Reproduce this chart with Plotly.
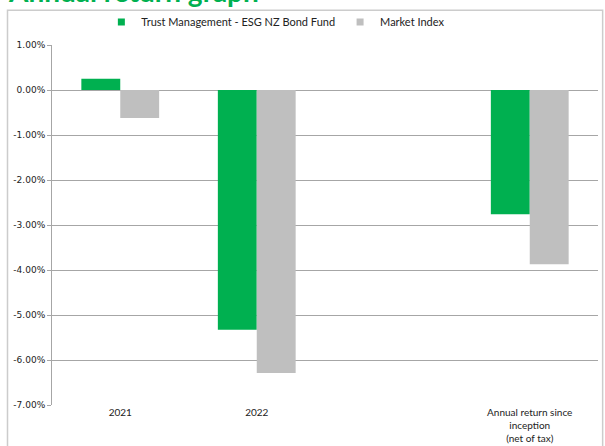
import plotly.graph_objects as go

categories = ["2021", "2022", " ", "Annual return since<br>inception<br>(net of tax)"]
fund_name = "Trust Management - ESG NZ Bond Fund"
index_name = "Market Index"
fund_values = [0.25, -5.33, None, -2.76]
index_values = [-0.62, -6.29, None, -3.87]
y_ticks = [1, 0, -1, -2, -3, -4, -5, -6, -7]
y_ticktext = ["1.00%", "0.00%", "-1.00%", "-2.00%", "-3.00%", "-4.00%", "-5.00%", "-6.00%", "-7.00%"]

GREEN = "#00b050"
GREY = "#bfbfbf"
GRID = "#a6a6a6"

fig = go.Figure()
fig.add_trace(go.Bar(x=categories, y=fund_values, name=fund_name, showlegend=False,
                     marker=dict(color=GREEN, line=dict(width=0))))
fig.add_trace(go.Bar(x=categories, y=index_values, name=index_name, showlegend=False,
                     marker=dict(color=GREY, line=dict(width=0))))
# legend entries with small square symbols
fig.add_trace(go.Scatter(x=[None], y=[None], mode="markers", name=fund_name,
                         marker=dict(symbol="square", size=7, color=GREEN)))
fig.add_trace(go.Scatter(x=[None], y=[None], mode="markers", name=index_name,
                         marker=dict(symbol="square", size=7, color=GREY)))

fig.update_layout(
    width=605, height=446,
    margin=dict(l=52, r=7, t=45, b=41, autoexpand=False),
    paper_bgcolor="white", plot_bgcolor="white",
    barmode="group", bargap=0.43, bargroupgap=0,
    showlegend=True,
    legend=dict(orientation="h", x=0.41, xanchor="center", y=1.064, yanchor="middle",
                font=dict(family="Lato, sans-serif", size=11, color="#222"),
                itemwidth=30, bgcolor="rgba(0,0,0,0)", tracegroupgap=0),
    font=dict(family="DejaVu Sans, sans-serif", size=9, color="#222"),
    xaxis=dict(type="category", showgrid=False, showline=False, ticks="",
               tickfont=dict(family="Lato, sans-serif", size=10, color="#222")),
    yaxis=dict(range=[-7, 1], tickvals=y_ticks, ticktext=y_ticktext,
               showgrid=True, gridcolor=GRID, gridwidth=1,
               zeroline=True, zerolinecolor=GRID, zerolinewidth=1,
               showline=True, linecolor=GRID, linewidth=1,
               ticks="outside", ticklen=4, tickcolor=GRID,
               tickfont=dict(family="DejaVu Sans, sans-serif", size=9, color="#222")),
)

# outer chart frame
fig.add_shape(type="rect", xref="paper", yref="paper",
              x0=-0.0815, x1=1.0085, y0=-0.2, y1=1.0965,
              line=dict(color="#cccccc", width=1.5), fillcolor="rgba(0,0,0,0)", layer="above")

# cut-off title
fig.add_annotation(text="<b>Annual return graph</b>", xref="paper", yref="paper",
                   x=-0.084, y=1.096, xanchor="left", yanchor="bottom", showarrow=False,
                   font=dict(family="Lato, sans-serif", size=28, color=GREEN))

fig.write_html("out.html", config={"displayModeBar": False},
               post_script="document.body.style.margin='0';document.body.style.overflow='hidden';")
